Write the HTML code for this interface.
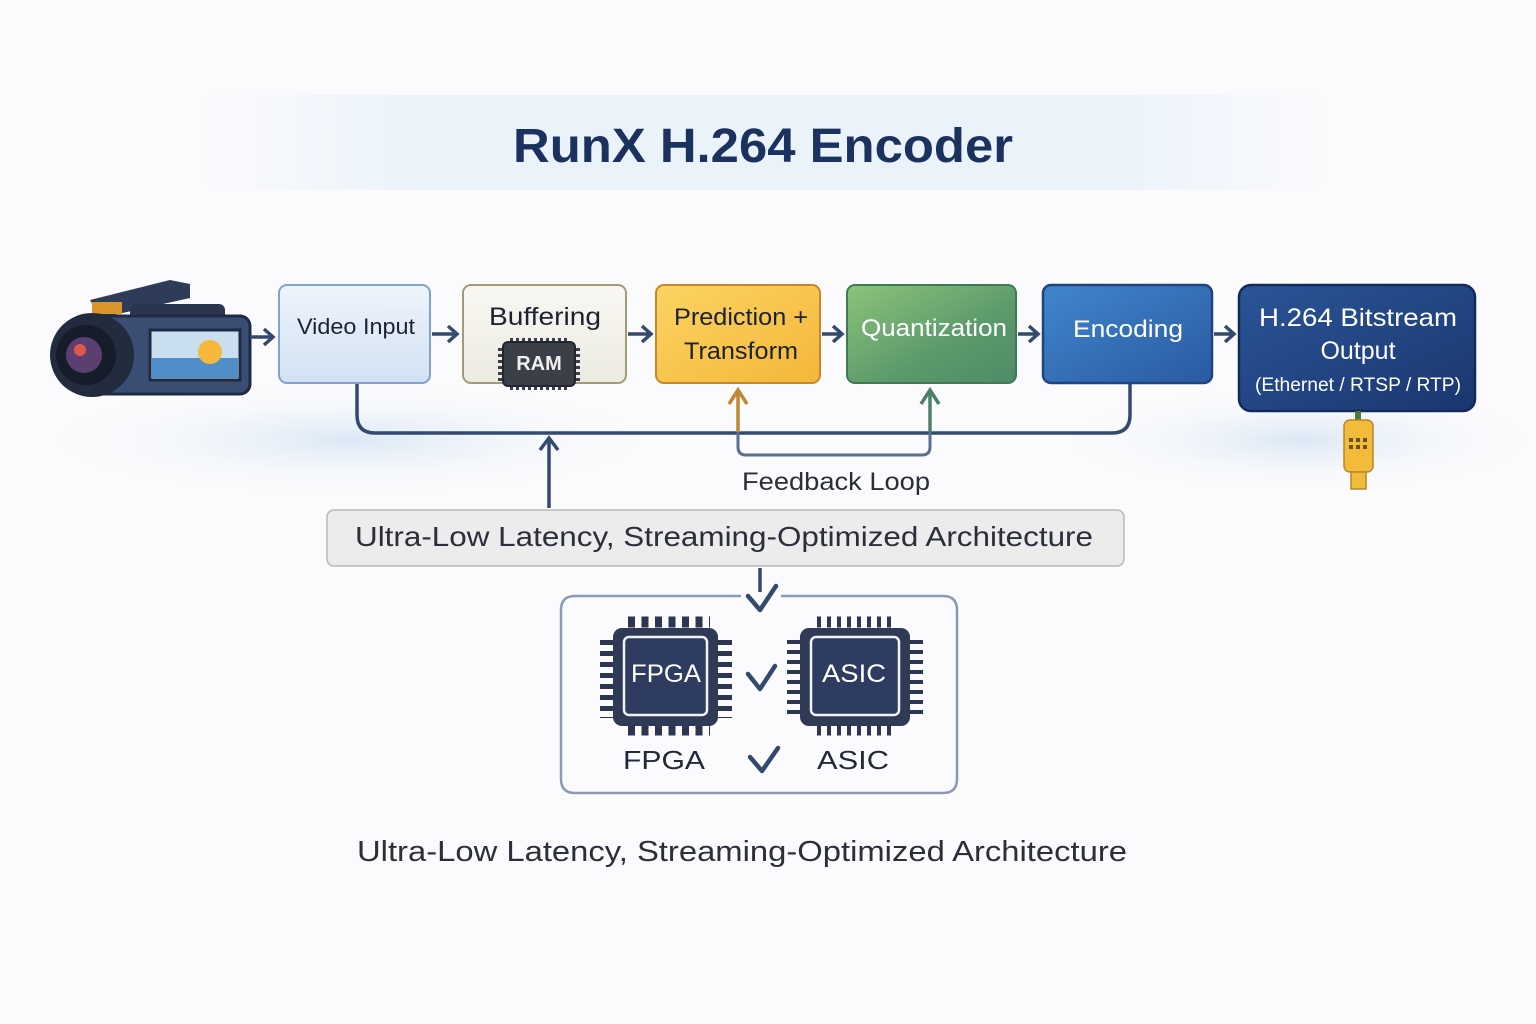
<!DOCTYPE html>
<html><head><meta charset="utf-8"><style>
html,body{margin:0;padding:0;background:#fbfbfd}
svg{display:block}
text{font-family:"Liberation Sans","DejaVu Sans",sans-serif}
</style></head><body>
<svg width="1536" height="1024" viewBox="0 0 1536 1024" xmlns="http://www.w3.org/2000/svg">
<defs>
<linearGradient id="tb" x1="0" x2="1"><stop offset="0" stop-color="#fbfbfd"/><stop offset="0.2" stop-color="#eaf2fa"/><stop offset="0.8" stop-color="#eaf2fa"/><stop offset="1" stop-color="#fbfbfd"/></linearGradient>
<linearGradient id="g1" x1="0" y1="0" x2="0" y2="1"><stop offset="0" stop-color="#eef4fb"/><stop offset="1" stop-color="#d2e2f3"/></linearGradient>
<linearGradient id="g2" x1="0" y1="0" x2="0" y2="1"><stop offset="0" stop-color="#f8f7f2"/><stop offset="1" stop-color="#ecebe2"/></linearGradient>
<linearGradient id="g3" x1="0" y1="0" x2="1" y2="1"><stop offset="0" stop-color="#fbd462"/><stop offset="1" stop-color="#f5b63a"/></linearGradient>
<linearGradient id="g4" x1="0" y1="0" x2="1" y2="1"><stop offset="0" stop-color="#8cc47a"/><stop offset="0.6" stop-color="#5c9a6c"/><stop offset="1" stop-color="#4f8a66"/></linearGradient>
<linearGradient id="g5" x1="0" y1="0" x2="1" y2="1"><stop offset="0" stop-color="#4086cc"/><stop offset="1" stop-color="#2a5aa2"/></linearGradient>
<linearGradient id="g6" x1="0" y1="0" x2="1" y2="1"><stop offset="0" stop-color="#2a5598"/><stop offset="1" stop-color="#1b366f"/></linearGradient>
<radialGradient id="sw" cx="0.5" cy="0.5" r="0.5"><stop offset="0" stop-color="#dbe8f5"/><stop offset="1" stop-color="#fbfbfd" stop-opacity="0"/></radialGradient>
</defs>
<rect width="1536" height="1024" fill="#fbfbfd"/>
<rect x="200" y="95" width="1130" height="95" fill="url(#tb)"/>
<ellipse cx="350" cy="440" rx="330" ry="60" fill="url(#sw)"/>
<ellipse cx="1300" cy="440" rx="260" ry="55" fill="url(#sw)"/>
<text x="763" y="162" text-anchor="middle" font-size="48" font-weight="bold" fill="#1b315e" textLength="500" lengthAdjust="spacingAndGlyphs">RunX H.264 Encoder</text>

<!-- camera -->
<g>
<path d="M90 300 L170 280 L190 284 L190 298 L100 318 Z" fill="#2e3c57"/>
<rect x="92" y="302" width="30" height="12" fill="#d9962e"/>
<rect x="130" y="304" width="95" height="20" rx="6" fill="#2a364e"/>
<rect x="82" y="316" width="168" height="78" rx="10" fill="#3a4d72" stroke="#1f2b42" stroke-width="3"/>
<rect x="150" y="330" width="90" height="50" fill="#c9dff0" stroke="#1f2b42" stroke-width="3"/>
<rect x="152" y="358" width="86" height="20" fill="#4f8ec8"/>
<circle cx="210" cy="352" r="12" fill="#f5b83a"/>
<circle cx="92" cy="355" r="42" fill="#232c3e"/>
<circle cx="86" cy="355" r="30" fill="#161c2a"/>
<circle cx="84" cy="355" r="18" fill="#5a3f70"/>
<circle cx="80" cy="350" r="6" fill="#e0574c"/>
</g>

<g fill="none" stroke="#34496e" stroke-width="3.5">
<path d="M250 337 H272 M264 329 L273 337 L264 345"/>
<path d="M432 334 H456 M448 326 L457 334 L448 342"/>
<path d="M628 334 H650 M642 326 L651 334 L642 342"/>
<path d="M822 334 H840 M833 326 L842 334 L833 342"/>
<path d="M1018 334 H1037 M1029 326 L1038 334 L1029 342"/>
<path d="M1214 334 H1232 M1225 326 L1234 334 L1225 342"/>
<path d="M357 384 V415 Q357 433 375 433 H1112 Q1130 433 1130 415 V384"/>
<path d="M549 508 V440 M540 450 L549 438 L558 450"/>
</g>
<path d="M738 432 V447 Q738 455 746 455 H922 Q930 455 930 447 V432" fill="none" stroke="#5a6f8e" stroke-width="3"/>
<path d="M738 432 V392 M729 404 L738 390 L747 404" fill="none" stroke="#c08632" stroke-width="3.5"/>
<path d="M930 432 V392 M921 404 L930 390 L939 404" fill="none" stroke="#4f7f68" stroke-width="3.5"/>
<text x="836" y="490" text-anchor="middle" font-size="25" fill="#2a2f3a" textLength="188" lengthAdjust="spacingAndGlyphs">Feedback Loop</text>

<!-- boxes -->
<rect x="279" y="285" width="151" height="98" rx="8" fill="url(#g1)" stroke="#7fa3cc" stroke-width="2"/>
<text x="356" y="334" text-anchor="middle" font-size="22" fill="#1c2230" textLength="118" lengthAdjust="spacingAndGlyphs">Video Input</text>
<rect x="463" y="285" width="163" height="98" rx="8" fill="url(#g2)" stroke="#a59a78" stroke-width="2"/>
<text x="545" y="325" text-anchor="middle" font-size="25" fill="#1c2230" textLength="112" lengthAdjust="spacingAndGlyphs">Buffering</text>
<g fill="none" stroke="#3a3f4a" stroke-width="4" stroke-dasharray="3 3">
<line x1="510" y1="388" x2="570" y2="388"/><line x1="510" y1="340" x2="570" y2="340"/>
<line x1="500" y1="348" x2="500" y2="382"/><line x1="578" y1="348" x2="578" y2="382"/>
</g>
<rect x="503" y="342" width="72" height="44" rx="5" fill="#3b3f48" stroke="#22262e" stroke-width="2"/>
<text x="539" y="370" text-anchor="middle" font-size="20" font-weight="bold" fill="#f0f0f0">RAM</text>
<rect x="656" y="285" width="164" height="98" rx="8" fill="url(#g3)" stroke="#c4872c" stroke-width="2"/>
<text x="741" y="325" text-anchor="middle" font-size="24" fill="#1c2230" textLength="134" lengthAdjust="spacingAndGlyphs">Prediction +</text>
<text x="741" y="359" text-anchor="middle" font-size="24" fill="#1c2230" textLength="114" lengthAdjust="spacingAndGlyphs">Transform</text>
<rect x="847" y="285" width="169" height="98" rx="8" fill="url(#g4)" stroke="#3f7a55" stroke-width="2"/>
<text x="934" y="336" text-anchor="middle" font-size="24" fill="#ffffff" textLength="146" lengthAdjust="spacingAndGlyphs">Quantization</text>
<rect x="1043" y="285" width="169" height="98" rx="8" fill="url(#g5)" stroke="#1f4480" stroke-width="2.5"/>
<text x="1128" y="337" text-anchor="middle" font-size="24" fill="#ffffff" textLength="110" lengthAdjust="spacingAndGlyphs">Encoding</text>
<rect x="1239" y="285" width="236" height="126" rx="12" fill="url(#g6)" stroke="#142a5a" stroke-width="2.5"/>
<text x="1358" y="326" text-anchor="middle" font-size="25" fill="#ffffff" textLength="198" lengthAdjust="spacingAndGlyphs">H.264 Bitstream</text>
<text x="1358" y="359" text-anchor="middle" font-size="25" fill="#ffffff">Output</text>
<text x="1358" y="391" text-anchor="middle" font-size="19" fill="#ffffff" textLength="206" lengthAdjust="spacingAndGlyphs">(Ethernet / RTSP / RTP)</text>
<rect x="1355" y="411" width="6" height="10" fill="#4a7a3a"/>
<rect x="1344" y="420" width="29" height="52" rx="6" fill="#f2bc3a" stroke="#b8862a" stroke-width="1.5"/>
<g fill="#6a5220"><rect x="1349" y="438" width="4" height="4"/><rect x="1356" y="438" width="4" height="4"/><rect x="1363" y="438" width="4" height="4"/><rect x="1349" y="445" width="4" height="4"/><rect x="1356" y="445" width="4" height="4"/><rect x="1363" y="445" width="4" height="4"/></g>
<rect x="1351" y="472" width="15" height="17" fill="#f2bc3a" stroke="#b8862a" stroke-width="1.5"/>

<rect x="327" y="510" width="797" height="56" rx="7" fill="#ececec" stroke="#b9b9bd" stroke-width="1.5"/>
<text x="724" y="546" text-anchor="middle" font-size="28" fill="#2a2f3a" textLength="738" lengthAdjust="spacingAndGlyphs">Ultra-Low Latency, Streaming-Optimized Architecture</text>

<path d="M741 596 H575 Q561 596 561 610 V779 Q561 793 575 793 H943 Q957 793 957 779 V610 Q957 596 943 596 H781" fill="none" stroke="#8a9ab5" stroke-width="2.5"/>
<path d="M760 568 V592" stroke="#34496e" stroke-width="3.5"/>
<g fill="none" stroke="#34496e" stroke-width="4.5" stroke-linecap="round" stroke-linejoin="round">
<path d="M748 596 L760 610 L776 586"/>
<path d="M748 674 L760 689 L775 666"/>
<path d="M750 757 L762 771 L778 748"/>
</g>
<g stroke="#2c3650" fill="none" stroke-width="11" stroke-dasharray="7 6.5">
<line x1="628" y1="622" x2="710" y2="622"/><line x1="628" y1="730" x2="710" y2="730"/>
</g>
<g stroke="#2c3650" fill="none" stroke-width="14" stroke-dasharray="5 6">
<line x1="607" y1="640" x2="607" y2="718"/><line x1="725" y1="640" x2="725" y2="718"/>
</g>
<rect x="613" y="628" width="105" height="98" rx="9" fill="#2e3a56"/>
<rect x="624" y="637" width="83" height="78" rx="5" fill="#2d3c60" stroke="#f0f2f6" stroke-width="2.5"/>
<text x="666" y="682" text-anchor="middle" font-size="25" fill="#ffffff" textLength="70" lengthAdjust="spacingAndGlyphs">FPGA</text>
<g stroke="#2c3650" fill="none" stroke-width="11" stroke-dasharray="4 6">
<line x1="817" y1="622" x2="897" y2="622"/><line x1="817" y1="730" x2="897" y2="730"/>
</g>
<g stroke="#2c3650" fill="none" stroke-width="14" stroke-dasharray="4 6">
<line x1="794" y1="640" x2="794" y2="718"/><line x1="916" y1="640" x2="916" y2="718"/>
</g>
<rect x="800" y="628" width="110" height="98" rx="9" fill="#2e3a56"/>
<rect x="811" y="637" width="88" height="78" rx="5" fill="#2d3c60" stroke="#f0f2f6" stroke-width="2.5"/>
<text x="854" y="682" text-anchor="middle" font-size="25" fill="#ffffff" textLength="64" lengthAdjust="spacingAndGlyphs">ASIC</text>
<text x="664" y="769" text-anchor="middle" font-size="26" fill="#222a3a" textLength="82" lengthAdjust="spacingAndGlyphs">FPGA</text>
<text x="853" y="769" text-anchor="middle" font-size="26" fill="#222a3a" textLength="72" lengthAdjust="spacingAndGlyphs">ASIC</text>

<text x="742" y="861" text-anchor="middle" font-size="29" fill="#2a2f3a" textLength="770" lengthAdjust="spacingAndGlyphs">Ultra-Low Latency, Streaming-Optimized Architecture</text>
</svg>
</body></html>
